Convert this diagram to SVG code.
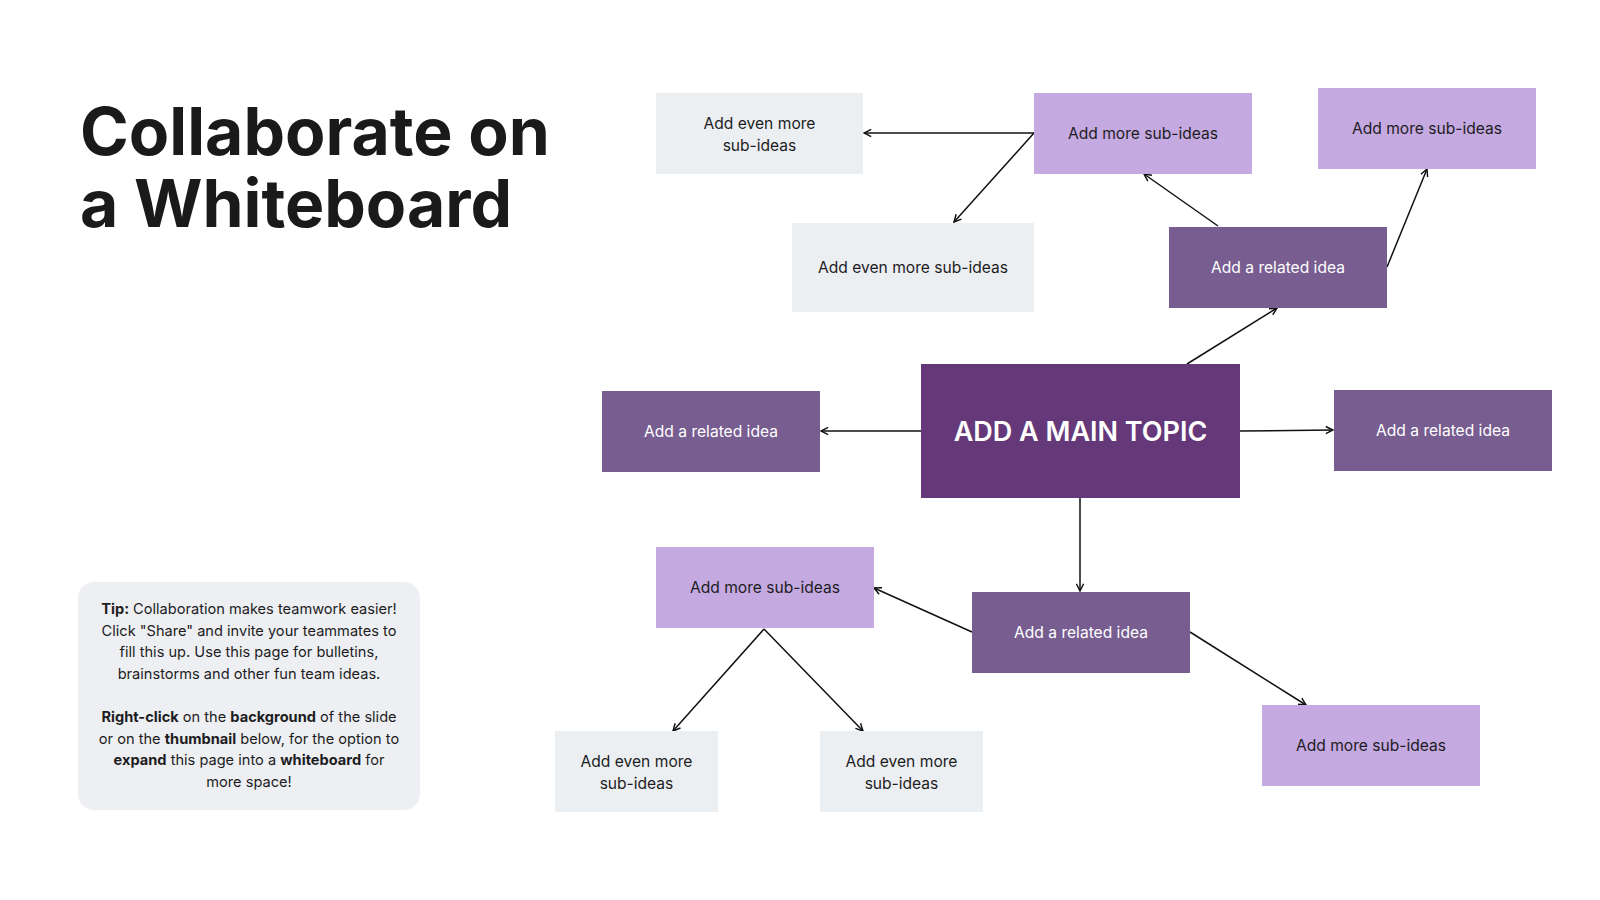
<svg xmlns="http://www.w3.org/2000/svg" width="1600" height="900" viewBox="0 0 1600 900">
<defs>
<marker id="arr" viewBox="0 0 10 10" refX="9" refY="5" markerWidth="9" markerHeight="9" markerUnits="userSpaceOnUse" orient="auto">
<path d="M1,1 L9,5 L1,9" fill="none" stroke="#111" stroke-width="1.6"/>
</marker>
<style>
.t{font-family:Inter,"Liberation Sans",sans-serif;font-size:15.6px;text-anchor:middle}
.dk{fill:#1d1d1f}
.wt{fill:#ffffff}
.gray{fill:#ECEFF2}
.lp{fill:#C5A9E1}
.mp{fill:#775D90}
.main{fill:#653879}
.c{fill:none;stroke:#111;stroke-width:1.5;marker-end:url(#arr)}
.title{font-family:Inter,"Liberation Sans",sans-serif;font-weight:700;font-size:66px;fill:#1a1a1a}
.tip{font-family:Inter,"Liberation Sans",sans-serif;font-size:14.6px;fill:#1d1d1f;text-anchor:middle}
.b{font-weight:700}
</style>
</defs>
<rect width="1600" height="900" fill="#ffffff"/>

<g id="title">
<text class="title" x="80" y="155">Collaborate on</text>
<text class="title" x="80" y="227">a Whiteboard</text>
</g>

<g id="tip">
<rect x="78" y="582" width="342" height="228" rx="16" fill="#EDEFF2"/>
<text class="tip" x="249" y="614"><tspan class="b">Tip:</tspan> Collaboration makes teamwork easier!</text>
<text class="tip" x="249" y="635.5">Click "Share" and invite your teammates to</text>
<text class="tip" x="249" y="657">fill this up. Use this page for bulletins,</text>
<text class="tip" x="249" y="678.5">brainstorms and other fun team ideas.</text>
<text class="tip" x="249" y="722">
<tspan class="b">Right-click</tspan> on the <tspan class="b">background</tspan> of the slide</text>
<text class="tip" x="249" y="743.5">or on the <tspan class="b">thumbnail</tspan> below, for the option to</text>
<text class="tip" x="249" y="765"><tspan class="b">expand</tspan> this page into a <tspan class="b">whiteboard</tspan> for</text>
<text class="tip" x="249" y="786.5">more space!</text>
</g>

<g id="connectors">
<line class="c" x1="921" y1="431" x2="821" y2="431"/>
<line class="c" x1="1240" y1="431" x2="1333" y2="430"/>
<line class="c" x1="1187" y1="364" x2="1277" y2="308"/>
<line class="c" x1="1080" y1="498" x2="1080" y2="591"/>
<line class="c" x1="1218" y1="226" x2="1144" y2="174"/>
<line class="c" x1="1387" y1="267" x2="1427" y2="169"/>
<line class="c" x1="1034" y1="133" x2="864" y2="133"/>
<line class="c" x1="1034" y1="133" x2="954" y2="222"/>
<line class="c" x1="972" y1="632" x2="874" y2="588"/>
<line class="c" x1="1190" y1="632" x2="1306" y2="705"/>
<line class="c" x1="764" y1="629" x2="673" y2="731"/>
<line class="c" x1="764" y1="629" x2="863" y2="731"/>
</g>

<g id="main-topic">
<rect class="main" x="921" y="364" width="319" height="134"/>
<text x="1080.5" y="441" style="font-family:Inter,'Liberation Sans',sans-serif;font-size:27px;font-weight:600;fill:#fff;text-anchor:middle">ADD A MAIN TOPIC</text>
</g>

<g id="related-left">
<rect class="mp" x="602" y="391" width="218" height="81"/>
<text class="t wt" x="711" y="437">Add a related idea</text>
</g>
<g id="related-right">
<rect class="mp" x="1334" y="390" width="218" height="81"/>
<text class="t wt" x="1443" y="436">Add a related idea</text>
</g>
<g id="related-top">
<rect class="mp" x="1169" y="227" width="218" height="81"/>
<text class="t wt" x="1278" y="273">Add a related idea</text>
</g>
<g id="related-bottom">
<rect class="mp" x="972" y="592" width="218" height="81"/>
<text class="t wt" x="1081" y="638">Add a related idea</text>
</g>

<g id="sub-top-mid">
<rect class="lp" x="1034" y="93" width="218" height="81"/>
<text class="t dk" x="1143" y="139">Add more sub-ideas</text>
</g>
<g id="sub-top-right">
<rect class="lp" x="1318" y="88" width="218" height="81"/>
<text class="t dk" x="1427" y="134">Add more sub-ideas</text>
</g>
<g id="sub-bottom-left">
<rect class="lp" x="656" y="547" width="218" height="81"/>
<text class="t dk" x="765" y="593">Add more sub-ideas</text>
</g>
<g id="sub-bottom-right">
<rect class="lp" x="1262" y="705" width="218" height="81"/>
<text class="t dk" x="1371" y="751">Add more sub-ideas</text>
</g>

<g id="even-top-left">
<rect class="gray" x="656" y="93" width="207" height="81"/>
<text class="t dk" x="759.5" y="128.5">Add even more</text>
<text class="t dk" x="759.5" y="151">sub-ideas</text>
</g>
<g id="even-top-mid">
<rect class="gray" x="792" y="223" width="242" height="89"/>
<text class="t dk" x="913" y="273">Add even more sub-ideas</text>
</g>
<g id="even-bottom-left">
<rect class="gray" x="555" y="731" width="163" height="81"/>
<text class="t dk" x="636.5" y="766.5">Add even more</text>
<text class="t dk" x="636.5" y="789">sub-ideas</text>
</g>
<g id="even-bottom-mid">
<rect class="gray" x="820" y="731" width="163" height="81"/>
<text class="t dk" x="901.5" y="766.5">Add even more</text>
<text class="t dk" x="901.5" y="789">sub-ideas</text>
</g>
</svg>
